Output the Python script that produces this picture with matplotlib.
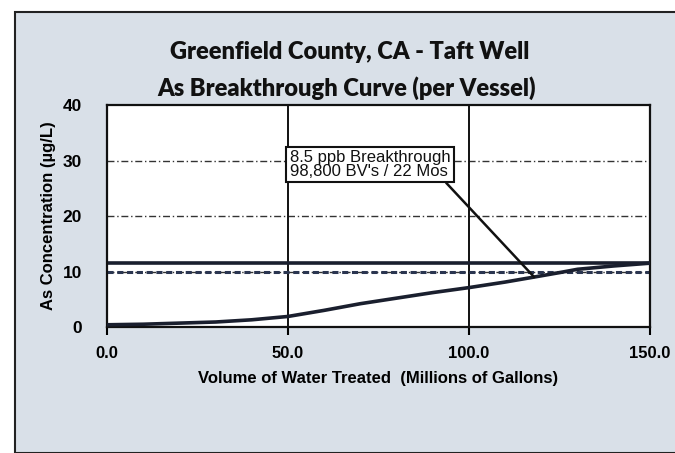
import matplotlib.pyplot as plt
from matplotlib.patches import Rectangle

# volume treated (million gallons) vs As concentration (ug/L)
volume = [0, 10, 20, 30, 40, 50, 60, 70, 80, 90, 100, 110, 118, 125, 130, 140, 150]
conc = [0.4, 0.5, 0.7, 0.9, 1.3, 1.9, 3.0, 4.2, 5.2, 6.2, 7.1, 8.1, 9.0, 9.8, 10.4, 11.0, 11.5]
upper_limit = 11.6
mcl = 10.0
bt_x, bt_y = 118, 9.0

x_ticks = [0, 50, 100, 150]
y_ticks = [0, 10, 20, 30, 40]

bg = '#d9e0e8'
fig = plt.figure(figsize=(6.75, 4.53), dpi=100)
fig.patch.set_facecolor('white')
fig.patches.append(Rectangle((15 / 675, 0), 1, 1 - 12 / 453, transform=fig.transFigure,
                             facecolor=bg, edgecolor='#222222', linewidth=1.5, zorder=-5))

ax = fig.add_axes([107 / 675, 1 - 327 / 453, 543 / 675, 222 / 453])
ax.set_zorder(3)
ax.set_facecolor('white')

for y in [10, 20, 30]:
    ax.axhline(y, color='#333333', linewidth=1.0, linestyle=(0, (5, 2, 1, 2)), zorder=1)
for x in [50, 100]:
    ax.axvline(x, color='#111111', linewidth=1.4, zorder=1)

ax.axhline(mcl, color='#2a3550', linewidth=2.2, linestyle=(0, (2, 1.2)), zorder=2)
ax.axhline(upper_limit, color='#1a1f2e', linewidth=2.6, zorder=2)
ax.plot(volume, conc, color='#1a1f2e', linewidth=2.6, zorder=3)

ax.annotate("8.5 ppb Breakthrough\n98,800 BV's / 22 Mos",
            xy=(bt_x, bt_y), xytext=(50.5, 29.3),
            fontsize=12, family='Liberation Sans', color='#111111',
            ha='left', va='center', linespacing=0.9,
            bbox=dict(boxstyle='square,pad=0.2', facecolor='white', edgecolor='#111111', linewidth=1.5),
            arrowprops=dict(arrowstyle='-', color='#111111', linewidth=1.8,
                            relpos=(0.95, 0.0), shrinkA=0, shrinkB=0))

ax.set_xlim(0, 150)
ax.set_ylim(0, 40)
ax.set_xticks(x_ticks)
ax.set_xticklabels(['%.1f' % v for v in x_ticks])
ax.set_yticks(y_ticks)
ax.tick_params(axis='x', direction='out', length=6, width=1.5, pad=8, labelsize=12)
ax.tick_params(axis='y', length=0, pad=18, labelsize=12.5)
for lab in ax.get_xticklabels() + ax.get_yticklabels():
    lab.set_fontweight('bold')
    lab.set_family('Liberation Sans')
for s in ax.spines.values():
    s.set_linewidth(1.6)
    s.set_color('#111111')

ax.set_xlabel('Volume of Water Treated  (Millions of Gallons)', fontsize=12,
              fontweight='bold', family='Liberation Sans', labelpad=7)
ax.set_ylabel('As Concentration (\u00b5g/L)', fontsize=12, fontweight='bold',
              family='Liberation Sans', labelpad=5)

fig.text(350 / 675, 1 - 52 / 453, 'Greenfield County, CA - Taft Well', ha='center', va='center',
         fontsize=17, fontweight='heavy', family='Lato', color='#111111')
fig.text(347 / 675, 1 - 88 / 453, 'As Breakthrough Curve (per Vessel)', ha='center', va='center',
         fontsize=17, fontweight='heavy', family='Lato', color='#111111')

fig.savefig('out.png', dpi=100)
